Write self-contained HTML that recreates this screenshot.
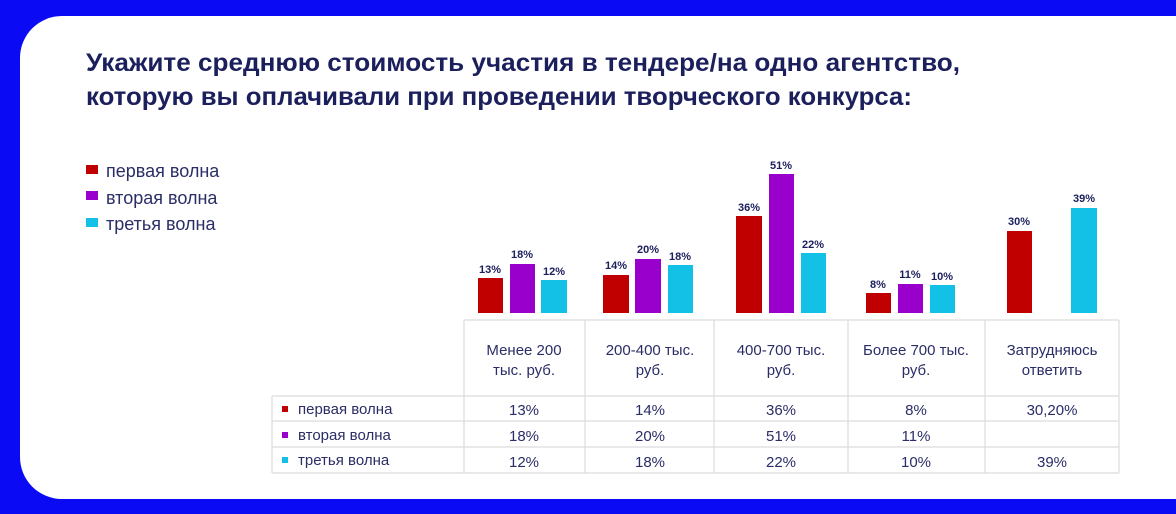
<!DOCTYPE html>
<html><head><meta charset="utf-8"><style>
html,body{margin:0;padding:0;background:#0a0af5;}
svg{display:block;font-family:"Liberation Sans",sans-serif;}
</style></head><body>
<svg width="1176" height="514" viewBox="0 0 1176 514" xmlns="http://www.w3.org/2000/svg">
<rect width="1176" height="514" fill="#0a0af5"/>
<rect x="20" y="16" width="1200" height="483" rx="42" fill="#fff"/>
<g fill="#1b1f5c" font-weight="bold" font-size="25">
<text x="86" y="71" textLength="874" lengthAdjust="spacingAndGlyphs">Укажите среднюю стоимость участия в тендере/на одно агентство,</text>
<text x="86" y="105" textLength="826" lengthAdjust="spacingAndGlyphs">которую вы оплачивали при проведении творческого конкурса:</text>
</g>
<g font-size="18" fill="#2a2d66">
<rect x="86" y="165" width="12" height="9" fill="#c00000"/><text x="106" y="177">первая волна</text>
<rect x="86" y="191" width="12" height="9" fill="#9900cc"/><text x="106" y="204">вторая волна</text>
<rect x="86" y="218" width="12" height="9" fill="#13c1e6"/><text x="106" y="230">третья волна</text>
</g>
<g>
<rect x="478" y="278" width="25" height="35" fill="#c00000"/>
<rect x="510" y="264" width="25" height="49" fill="#9900cc"/>
<rect x="541" y="280" width="26" height="33" fill="#13c1e6"/>
<rect x="603" y="275" width="26" height="38" fill="#c00000"/>
<rect x="635" y="259" width="26" height="54" fill="#9900cc"/>
<rect x="668" y="265" width="25" height="48" fill="#13c1e6"/>
<rect x="736" y="216" width="26" height="97" fill="#c00000"/>
<rect x="769" y="174" width="25" height="139" fill="#9900cc"/>
<rect x="801" y="253" width="25" height="60" fill="#13c1e6"/>
<rect x="866" y="293" width="25" height="20" fill="#c00000"/>
<rect x="898" y="284" width="25" height="29" fill="#9900cc"/>
<rect x="930" y="285" width="25" height="28" fill="#13c1e6"/>
<rect x="1007" y="231" width="25" height="82" fill="#c00000"/>
<rect x="1071" y="208" width="26" height="105" fill="#13c1e6"/>
</g>
<g font-size="11" font-weight="bold" fill="#1b1f5c" text-anchor="middle">
<text x="490" y="273">13%</text><text x="522" y="258">18%</text><text x="554" y="275">12%</text>
<text x="616" y="269">14%</text><text x="648" y="253">20%</text><text x="680" y="260">18%</text>
<text x="749" y="211">36%</text><text x="781" y="169">51%</text><text x="813" y="248">22%</text>
<text x="878" y="288">8%</text><text x="910" y="278">11%</text><text x="942" y="280">10%</text>
<text x="1019" y="225">30%</text><text x="1084" y="202">39%</text>
</g>
<g stroke="#dcdcdc" stroke-width="1.2" fill="none">
<line x1="464" y1="320" x2="1119" y2="320"/>
<line x1="272" y1="396" x2="1119" y2="396"/>
<line x1="272" y1="421" x2="1119" y2="421"/>
<line x1="272" y1="447" x2="1119" y2="447"/>
<line x1="272" y1="473" x2="1119" y2="473"/>
<line x1="272" y1="396" x2="272" y2="473"/>
<line x1="464" y1="320" x2="464" y2="473"/>
<line x1="585" y1="320" x2="585" y2="473"/>
<line x1="714" y1="320" x2="714" y2="473"/>
<line x1="848" y1="320" x2="848" y2="473"/>
<line x1="985" y1="320" x2="985" y2="473"/>
<line x1="1119" y1="320" x2="1119" y2="473"/>
</g>
<g font-size="15" fill="#2a2d66" text-anchor="middle">
<text x="524" y="355">Менее 200</text><text x="524" y="375">тыс. руб.</text>
<text x="650" y="355">200-400 тыс.</text><text x="650" y="375">руб.</text>
<text x="781" y="355">400-700 тыс.</text><text x="781" y="375">руб.</text>
<text x="916" y="355">Более 700 тыс.</text><text x="916" y="375">руб.</text>
<text x="1052" y="355">Затрудняюсь</text><text x="1052" y="375">ответить</text>
<text x="524" y="415">13%</text><text x="650" y="415">14%</text><text x="781" y="415">36%</text><text x="916" y="415">8%</text><text x="1052" y="415">30,20%</text>
<text x="524" y="441">18%</text><text x="650" y="441">20%</text><text x="781" y="441">51%</text><text x="916" y="441">11%</text>
<text x="524" y="467">12%</text><text x="650" y="467">18%</text><text x="781" y="467">22%</text><text x="916" y="467">10%</text><text x="1052" y="467">39%</text>
</g>
<g font-size="15" fill="#2a2d66">
<rect x="282" y="406" width="6" height="6" fill="#c00000"/><text x="298" y="414">первая волна</text>
<rect x="282" y="432" width="6" height="6" fill="#9900cc"/><text x="298" y="440">вторая волна</text>
<rect x="282" y="457" width="6" height="6" fill="#13c1e6"/><text x="298" y="465">третья волна</text>
</g>
</svg>
</body></html>
